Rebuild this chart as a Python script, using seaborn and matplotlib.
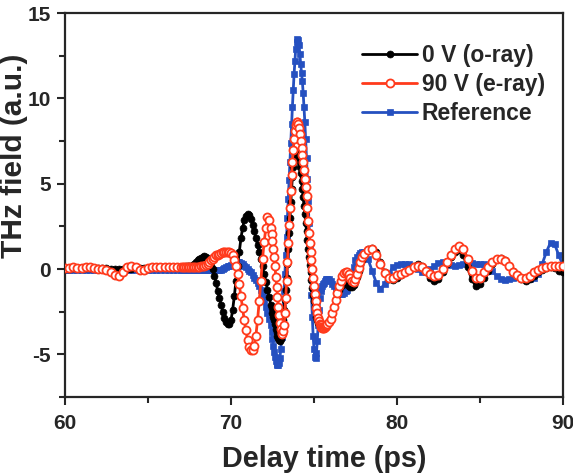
import numpy as np
import pandas as pd
import seaborn as sns
import matplotlib.pyplot as plt
from matplotlib.ticker import MultipleLocator

# sampling grid of the delay scan (ps): coarse on the flat parts, fine around the pulse
delay = np.round(np.concatenate([
    np.arange(60, 67, 0.25),
    np.linspace(67.0, 72.3, 54),
    np.linspace(72.4, 75.8, 69),
    np.linspace(75.9, 77.9, 21),
    np.linspace(78.0, 90.0, 49),
]), 2)

# 0 V (o-ray)
o_ray = [
    0.0, 0.0, 0.05, 0.05, 0.05, 0.05, 0.05, 0.05, 0.05, 0.05, 0.05, 0.0, 0.0, 0.0,
    0.0, 0.0, 0.0, 0.05, 0.05, 0.05, 0.05, 0.1, 0.1, 0.1, 0.1, 0.1, 0.1, 0.1,
    # 67.0 - 72.3
    0.1, 0.1, 0.1, 0.15, 0.15, 0.2, 0.2, 0.25, 0.3, 0.4,
    0.5, 0.6, 0.65, 0.7, 0.75, 0.7, 0.6, 0.45, 0.2, 0.0,
    -0.4, -0.8, -1.3, -1.7, -2.1, -2.5, -2.85, -3.1, -3.25, -3.25,
    -3.0, -2.4, -1.6, -0.7, 0.2, 1.0, 1.8, 2.4, 2.85, 3.1,
    3.2, 3.15, 2.95, 2.6, 2.2, 1.8, 1.4, 1.0, 0.6, 0.15,
    -0.3, -0.75, -1.2, -1.65,
    # 72.40 - 75.80
    -2.1, -2.3, -2.55, -2.8, -3.0, -3.25, -3.5, -3.7, -3.9, -4.05,
    -4.15, -4.2, -4.1, -3.85, -3.5, -3.0, -2.4, -1.8, -1.2, -0.5,
    0.3, 1.2, 2.1, 3.0, 3.9, 4.7, 5.4, 6.0, 6.4, 6.65,
    6.8, 6.8, 6.75, 6.6, 6.35, 6.0, 5.6, 5.15, 4.7, 4.2,
    3.7, 3.2, 2.7, 2.2, 1.7, 1.2, 0.7, 0.25, -0.2, -0.65,
    -1.1, -1.5, -1.9, -2.25, -2.55, -2.8, -3.0, -3.15, -3.25, -3.3,
    -3.3, -3.35, -3.35, -3.35, -3.35, -3.3, -3.3, -3.25, -3.2,
    # 75.9 - 77.9
    -3.05, -2.85, -2.55, -2.2, -1.85, -1.5, -1.2, -1.0, -0.9, -0.85,
    -0.85, -0.9, -1.0, -1.05, -1.05, -0.95, -0.75, -0.45, -0.1, 0.25, 0.55,
    # 78.0 - 90.0
    0.8, 1.15, 1.25, 1.0, 0.4, -0.2, -0.6, -0.65, -0.5, -0.35,
    -0.2, 0.0, 0.2, 0.3, 0.2, -0.1, -0.5, -0.7, -0.6, -0.2,
    0.3, 0.7, 1.0, 1.1, 0.8, 0.1, -0.6, -1.0, -0.9, -0.5,
    -0.1, 0.3, 0.6, 0.65, 0.5, 0.2, -0.1, -0.4, -0.6, -0.7,
    -0.6, -0.4, -0.2, -0.05, 0.05, 0.1, 0.05, -0.1, -0.2,
]

# 90 V (e-ray)
e_ray = [
    0.05, 0.05, 0.1, 0.05, 0.05, 0.1, 0.1, 0.05, 0.0, 0.0, -0.05, -0.2, -0.35, -0.4,
    -0.2, 0.1, 0.2, 0.1, -0.05, -0.05, 0.05, 0.1, 0.1, 0.1, 0.1, 0.1, 0.1, 0.1,
    # 67.0 - 72.3
    0.1, 0.1, 0.1, 0.1, 0.1, 0.1, 0.1, 0.1, 0.1, 0.1,
    0.1, 0.1, 0.15, 0.15, 0.2, 0.25, 0.3, 0.4, 0.5, 0.6,
    0.7, 0.8, 0.85, 0.9, 0.95, 1.0, 1.0, 1.0, 1.0, 1.0,
    0.95, 0.8, 0.55, 0.2, -0.3, -0.9, -1.6, -2.3, -3.0, -3.6,
    -4.15, -4.55, -4.75, -4.75, -4.5, -3.9, -3.0, -1.9, -0.7, 0.6,
    1.6, 2.4, 3.05, 2.9,
    # 72.40 - 75.80
    2.4, 2.05, 1.65, 1.2, 0.7, 0.15, -0.45, -1.05, -1.65, -2.2,
    -2.7, -3.15, -3.5, -3.75, -3.8, -3.65, -3.3, -2.6, -1.7, -0.7,
    0.4, 1.5, 2.6, 3.6, 4.6, 5.5, 6.3, 7.0, 7.6, 8.1,
    8.45, 8.6, 8.6, 8.5, 8.25, 7.9, 7.5, 7.1, 6.7, 6.3,
    5.8, 5.3, 4.8, 4.3, 3.6, 2.8, 2.1, 1.5, 1.0, 0.5,
    0.0, -0.5, -1.0, -1.45, -1.9, -2.3, -2.6, -2.85, -3.05, -3.2,
    -3.3, -3.4, -3.45, -3.45, -3.45, -3.4, -3.35, -3.3, -3.2,
    # 75.9 - 77.9
    -3.1, -2.9, -2.6, -2.2, -1.8, -1.4, -1.0, -0.7, -0.4, -0.25,
    -0.15, -0.15, -0.3, -0.5, -0.7, -0.75, -0.6, -0.3, 0.05, 0.4, 0.7,
    # 78.0 - 90.0
    0.9, 1.1, 1.15, 0.85, 0.3, -0.25, -0.55, -0.5, -0.35, -0.3,
    -0.2, -0.05, 0.1, 0.15, 0.1, -0.1, -0.3, -0.4, -0.35, 0.0,
    0.4, 0.8, 1.15, 1.35, 1.2, 0.6, -0.1, -0.55, -0.5, -0.2,
    0.1, 0.4, 0.6, 0.6, 0.45, 0.15, -0.15, -0.35, -0.5, -0.5,
    -0.4, -0.2, -0.05, 0.05, 0.1, 0.15, 0.15, 0.15, 0.15,
]

# Reference
reference = [
    -0.05, -0.05, -0.05, -0.05, -0.05, -0.05, -0.05, -0.05, -0.05, -0.05, -0.05, -0.05, -0.05, -0.05,
    -0.05, -0.05, -0.05, -0.05, -0.05, -0.05, -0.05, -0.05, -0.05, -0.05, -0.05, -0.05, -0.05, -0.05,
    # 67.0 - 72.3
    -0.05, -0.05, -0.05, -0.05, -0.05, -0.05, -0.05, -0.05, -0.05, -0.05,
    -0.05, -0.05, -0.05, -0.05, -0.05, -0.05, -0.05, -0.05, -0.05, -0.05,
    -0.05, -0.05, -0.05, -0.05, -0.05, 0.0, 0.05, 0.1, 0.15, 0.2,
    0.25, 0.3, 0.35, 0.4, 0.4, 0.4, 0.35, 0.3, 0.2, 0.1,
    0.0, -0.1, -0.2, -0.35, -0.5, -0.65, -0.8, -1.0, -1.2, -1.5,
    -1.85, -2.2, -2.55, -2.9,
    # 72.40 - 75.80
    -3.3, -3.7, -4.1, -4.5, -4.85, -5.15, -5.4, -5.55, -5.6, -5.6,
    -5.5, -5.2, -4.7, -4.0, -3.2, -2.3, -1.3, -0.3, 0.8, 1.9,
    3.0, 4.1, 5.2, 6.3, 7.4, 8.5, 9.5, 10.5, 11.4, 12.2,
    12.9, 13.3, 13.5, 13.4, 13.1, 12.6, 12.0, 11.5, 11.0, 10.3,
    9.5, 8.6, 7.6, 6.5, 5.3, 4.0, 2.7, 1.3, -0.1, -1.5,
    -2.8, -3.9, -4.7, -5.15, -5.2, -4.9, -4.2, -3.3, -2.4, -1.7,
    -1.3, -1.1, -1.0, -0.9, -0.8, -0.7, -0.65, -0.6, -0.6,
    # 75.9 - 77.9
    -0.6, -0.7, -0.85, -1.0, -1.15, -1.3, -1.4, -1.45, -1.45, -1.4,
    -1.3, -1.2, -1.0, -0.7, -0.3, 0.1, 0.5, 0.7, 0.85, 0.95, 1.0,
    # 78.0 - 90.0
    1.0, 0.6, -0.1, -0.8, -1.15, -0.9, -0.3, 0.1, 0.25, 0.3,
    0.3, 0.3, 0.2, 0.0, -0.2, -0.2, 0.0, 0.2, 0.35, 0.4,
    0.35, 0.25, 0.2, 0.25, 0.3, 0.35, 0.35, 0.3, 0.3, 0.3,
    0.2, -0.1, -0.4, -0.6, -0.65, -0.6, -0.5, -0.45, -0.5, -0.6,
    -0.6, -0.55, -0.3, 0.3, 1.0, 1.55, 1.45, 0.8, 0.2,
]

labels = ["0 V (o-ray)", "90 V (e-ray)", "Reference"]
black, red, blue = "#000000", "#ff3a1c", "#2550c0"

sns.set_style("ticks")
plt.rcParams["font.family"] = ["Liberation Sans", "DejaVu Sans"]
plt.rcParams["font.weight"] = "bold"
plt.rcParams["axes.unicode_minus"] = False

fig = plt.figure(figsize=(5.73, 4.74), dpi=100)
ax = fig.add_axes([0.1134, 0.1624, 0.8691, 0.8101])

# reference underneath, e-ray on top
sns.lineplot(x=delay, y=reference, ax=ax, color=blue, lw=2.0, marker="s", markersize=4.6,
             markeredgecolor=blue, markerfacecolor=blue, markeredgewidth=0.5,
             estimator=None, label=labels[2], zorder=2)
sns.lineplot(x=delay, y=o_ray, ax=ax, color=black, lw=2.0, marker="o", markersize=5.0,
             markeredgecolor=black, markerfacecolor=black, markeredgewidth=0.5,
             estimator=None, label=labels[0], zorder=3)
sns.lineplot(x=delay, y=e_ray, ax=ax, color=red, lw=2.0, marker="o", markersize=5.8,
             markeredgecolor=red, markerfacecolor="white", markeredgewidth=1.3,
             estimator=None, label=labels[1], zorder=4)

ax.set_xlim(60, 90)
ax.set_ylim(-7.5, 15)
ax.set_xticks([60, 70, 80, 90])
ax.set_yticks([-5, 0, 5, 10, 15])
ax.xaxis.set_minor_locator(MultipleLocator(5))
ax.yaxis.set_minor_locator(MultipleLocator(2.5))
ax.tick_params(which="major", direction="out", length=6, width=1.5, labelsize=15)
ax.tick_params(which="minor", direction="out", length=4, width=1.5)
ax.tick_params(axis="x", which="major", pad=6)
ax.tick_params(axis="y", which="major", pad=4)
for lab in ax.get_xticklabels() + ax.get_yticklabels():
    lab.set_fontweight("bold")
for sp in ax.spines.values():
    sp.set_linewidth(1.6)
    sp.set_visible(True)

ax.set_xlabel("Delay time (ps)", fontsize=20.7, fontweight="bold")
ax.set_ylabel("THz field (a.u.)", fontsize=21.5, fontweight="bold")
ax.xaxis.set_label_coords(0.52, -0.125)
ax.yaxis.set_label_coords(-0.074, 0.627)

handles, labs = ax.get_legend_handles_labels()
order = [labs.index(l) for l in labels]
ax.legend([handles[i] for i in order], labels, loc="upper left", bbox_to_anchor=(0.597, 0.92),
          frameon=False, handlelength=2.4, handletextpad=0.2,
          labelspacing=0.26, borderaxespad=0, borderpad=0,
          prop={"weight": "bold", "size": 16.5})

fig.savefig("out.png", dpi=100)
